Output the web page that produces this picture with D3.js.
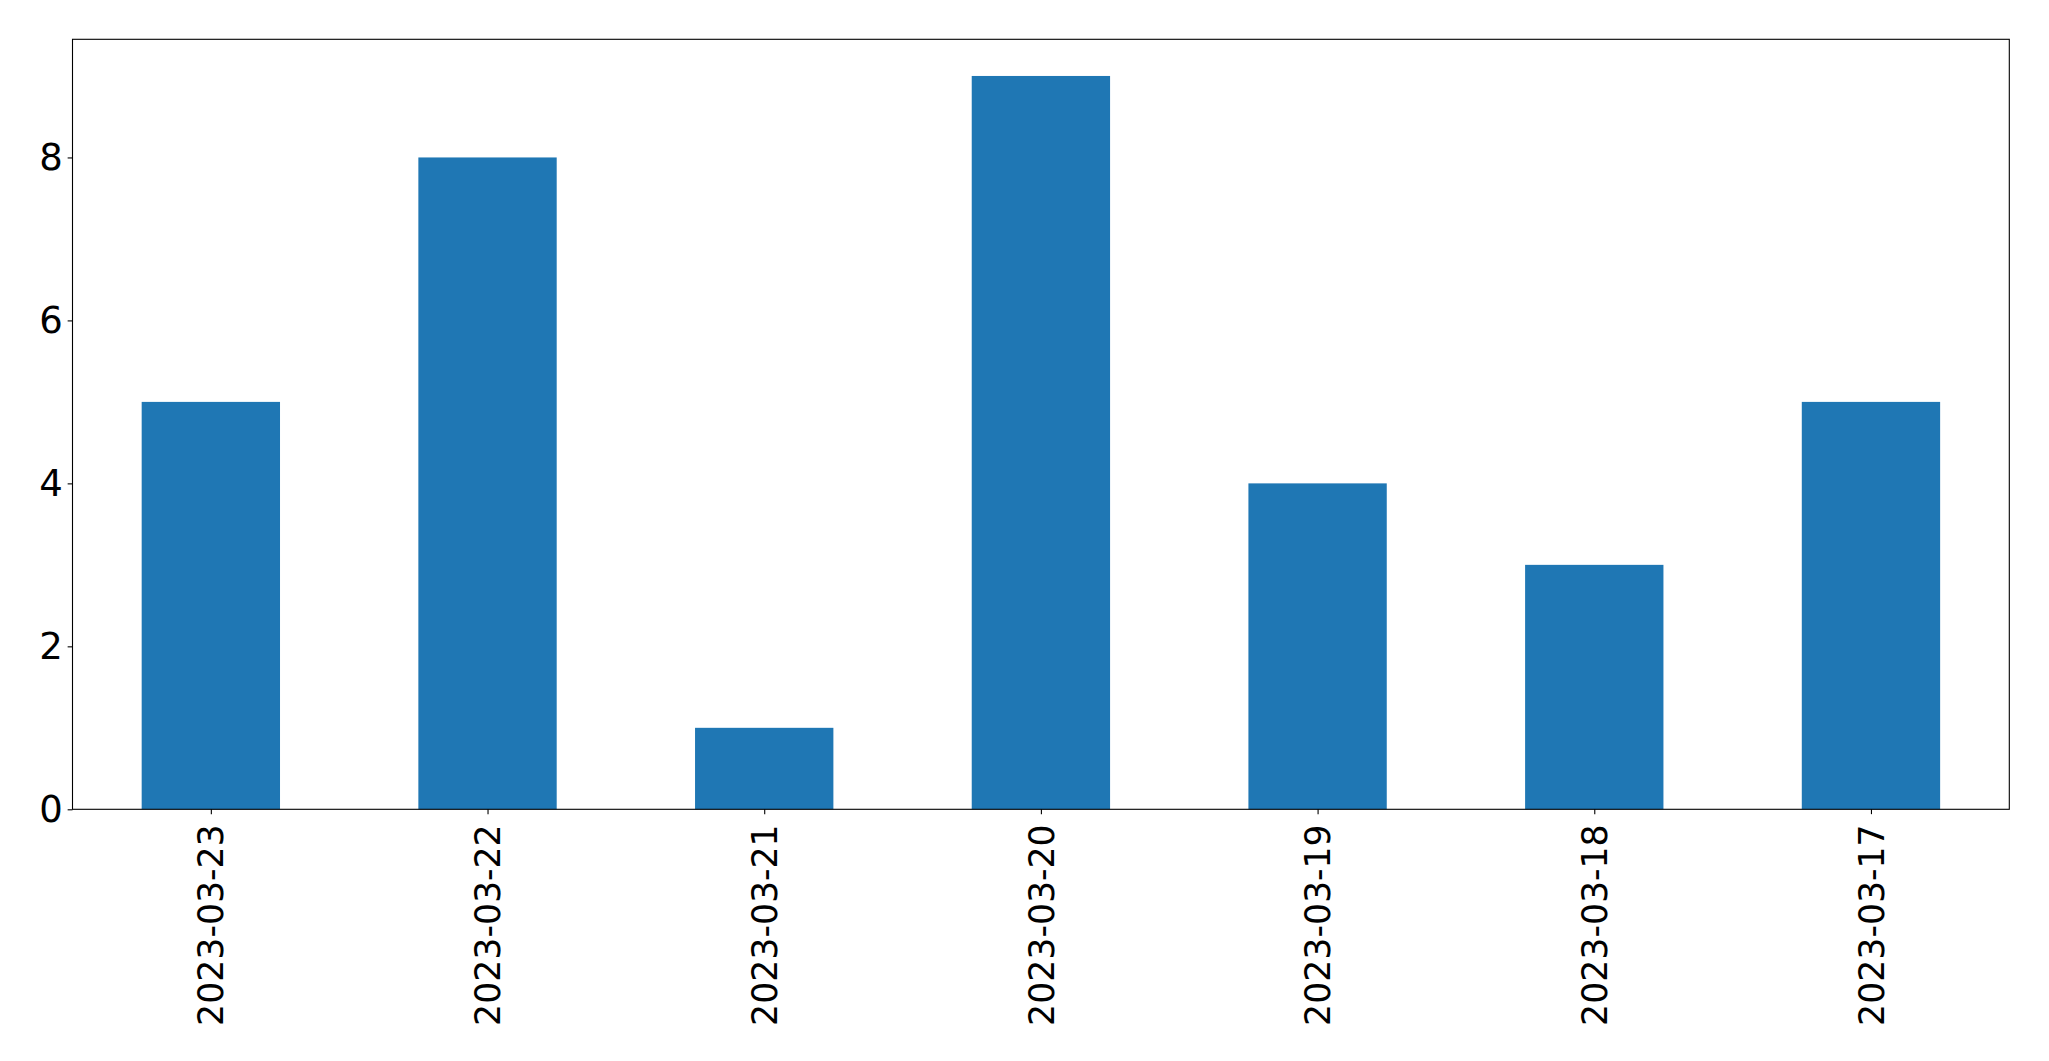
<!DOCTYPE html>
<html><head><meta charset="utf-8">
<script src="https://cdn.jsdelivr.net/npm/d3@7"></script>
<style>body{margin:0;background:#fff}svg{display:block}text{font-family:"DejaVu Sans",sans-serif}</style>
</head><body>
<script>
const categories = ["2023-03-23","2023-03-22","2023-03-21","2023-03-20","2023-03-19","2023-03-18","2023-03-17"];
const values = [5, 8, 1, 9, 4, 3, 5];
const yTicks = [0, 2, 4, 6, 8];

const W = 2049, H = 1061;
const m = {left: 72.5, top: 39.3, right: 2009.3, bottom: 809.3};
const svg = d3.select("body").append("svg").attr("width", W).attr("height", H);

const x = d3.scaleLinear().domain([-0.5, categories.length - 0.5]).range([m.left, m.right]);
const y = d3.scaleLinear().domain([0, 9.45]).range([m.bottom, m.top]);

svg.append("g").selectAll("rect").data(values).join("rect")
  .attr("x", (d, i) => x(i - 0.25)).attr("width", x(0.25) - x(-0.25))
  .attr("y", d => y(d)).attr("height", d => y(0) - y(d))
  .attr("fill", "#1f77b4");

const fsX = 34.7, fsY = 37;
const yAxis = d3.axisLeft(y).tickValues(yTicks).tickSize(4.86).tickPadding(4.86).tickFormat(d3.format("d"));
const gy = svg.append("g").attr("transform", `translate(${m.left},0)`).call(yAxis);
gy.select(".domain").remove();
gy.selectAll("line").attr("stroke", "#000").attr("stroke-width", 1.1);
gy.selectAll("text").attr("font-size", fsY).attr("fill", "#000").attr("font-family", "DejaVu Sans");

const xAxis = d3.axisBottom(x).tickValues(d3.range(categories.length)).tickSize(4.86).tickPadding(0).tickFormat(i => categories[i]);
const gx = svg.append("g").attr("transform", `translate(0,${m.bottom})`).call(xAxis);
gx.select(".domain").remove();
gx.selectAll("line").attr("stroke", "#000").attr("stroke-width", 1.1);
gx.selectAll("text").attr("font-size", fsX).attr("fill", "#000").attr("font-family", "DejaVu Sans")
  .attr("text-anchor", "end").attr("dy", null).attr("y", 0)
  .attr("transform", "translate(0,15) rotate(-90)").attr("dx", 0).attr("dy", "0.35em");

svg.append("rect").attr("x", m.left).attr("y", m.top)
  .attr("width", m.right - m.left).attr("height", m.bottom - m.top)
  .attr("fill", "none").attr("stroke", "#000").attr("stroke-width", 1.1);
</script>
</body></html>
